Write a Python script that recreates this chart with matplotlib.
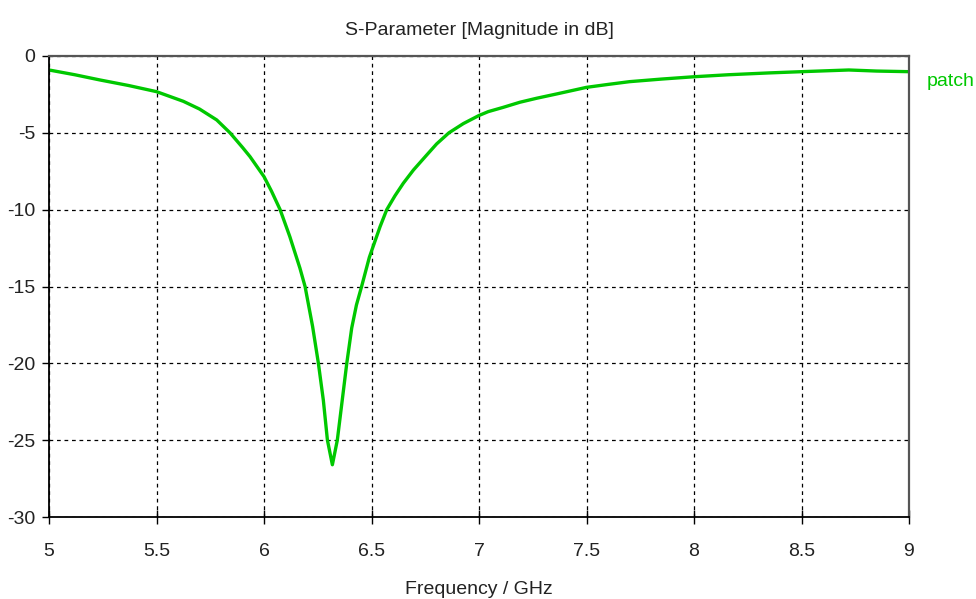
import matplotlib
matplotlib.use("Agg")
import matplotlib.pyplot as plt

# S11 of the patch antenna, read point by point (GHz, dB)
freq_ghz = [5.0, 5.12, 5.237, 5.37, 5.5, 5.625, 5.7, 5.78, 5.842, 5.9, 5.935,
            6.0, 6.035, 6.075, 6.12, 6.167, 6.191, 6.226, 6.253, 6.276, 6.295,
            6.318, 6.341, 6.385, 6.408, 6.43, 6.454, 6.49, 6.54, 6.571, 6.609,
            6.648, 6.695, 6.757, 6.803, 6.86, 6.927, 7.0, 7.043, 7.113, 7.19,
            7.268, 7.361, 7.5, 7.6, 7.7, 7.85, 8.0, 8.16, 8.35, 8.5, 8.72,
            8.85, 9.0]
s11_db = [-0.91, -1.22, -1.56, -1.92, -2.32, -2.95, -3.45, -4.16, -5.0, -5.95,
          -6.55, -7.85, -8.8, -10.0, -11.75, -13.8, -15.0, -17.6, -20.0, -22.4,
          -25.0, -26.6, -25.0, -20.0, -17.7, -16.2, -15.0, -13.1, -11.1, -10.0,
          -9.1, -8.28, -7.42, -6.44, -5.72, -5.0, -4.4, -3.87, -3.62, -3.34,
          -3.01, -2.75, -2.47, -2.04, -1.85, -1.67, -1.5, -1.35, -1.22, -1.1,
          -1.02, -0.91, -0.98, -1.02]
series_name = "patch"

x_ticks = [5, 5.5, 6, 6.5, 7, 7.5, 8, 8.5, 9]
x_tick_labels = ["5", "5.5", "6", "6.5", "7", "7.5", "8", "8.5", "9"]
y_ticks = [0, -5, -10, -15, -20, -25, -30]
y_tick_labels = ["0", "-5", "-10", "-15", "-20", "-25", "-30"]

plt.rcParams["font.family"] = ["Liberation Sans", "DejaVu Sans"]

fig = plt.figure(figsize=(9.76, 5.99), dpi=100)
ax = fig.add_axes([49 / 976, 1 - 517 / 599, 860 / 976, 461 / 599])

green = "#00c800"
ax.plot(freq_ghz, s11_db, color=green, lw=2.4, solid_joinstyle="round")

ax.set_xlim(5, 9)
ax.set_ylim(-30, 0)
ax.set_xticks(x_ticks)
ax.set_xticklabels(x_tick_labels)
ax.set_yticks(y_ticks)
ax.set_yticklabels(y_tick_labels)

ax.grid(True, color="black", linestyle=(0, (3, 3)), lw=0.9)

for side in ("left", "bottom"):
    ax.spines[side].set_color("black")
    ax.spines[side].set_linewidth(1.3)
for side in ("top", "right"):
    ax.spines[side].set_color("#555555")
    ax.spines[side].set_linewidth(1.6)

ax.tick_params(axis="x", direction="inout", length=10, width=1, pad=14,
               labelsize=14, colors="black")
ax.tick_params(axis="y", direction="out", length=5, width=1, pad=5,
               labelsize=14, colors="black")
for lbl in ax.get_xticklabels() + ax.get_yticklabels():
    lbl.set_color("#222222")

ax.set_title("S-Parameter [Magnitude in dB]", fontsize=14, color="#222222", pad=15)
ax.set_xlabel("Frequency / GHz", fontsize=14, color="#222222", labelpad=15)

ax.text(1.021, 0.944, series_name, transform=ax.transAxes, color=green,
        fontsize=14, ha="left", va="center")

fig.savefig("out.png", dpi=100)
